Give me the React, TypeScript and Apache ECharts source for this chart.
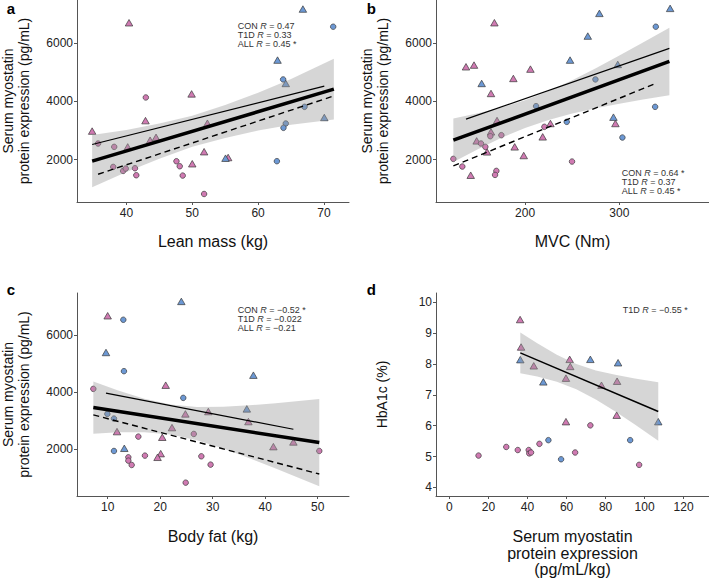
import React, { useEffect, useRef } from "react";
import * as echarts from "echarts";

const FONT = '"Liberation Sans", Arial, Helvetica, sans-serif';
const PINK = "#d07ab2";
const BLUE = "#6c98d4";

// ---- Panel a: Lean mass (kg) vs serum myostatin (pg/mL)
const aPinkTri = [[34.8, 2980], [40.4, 6710], [42.9, 3340], [49.9, 4260], [50.0, 1855], [51.8, 2270], [52.3, 3250], [43.6, 2665], [44.5, 2765], [40.2, 2435], [55.45, 2070]];
const aPinkCirc = [[35.7, 2552], [38.15, 2437], [38.0, 1746], [42.95, 4137], [39.5, 1607], [39.9, 1690], [41.3, 1700], [41.5, 1459], [47.6, 1941], [48.1, 1769], [48.55, 1448], [51.8, 814]];
const aBlueTri = [[66.8, 7182], [62.95, 5424], [64.2, 4620], [70.05, 3448], [55.05, 2046]];
const aBlueCirc = [[71.4, 6573], [63.8, 4758], [67.05, 3815], [64.2, 3241], [63.85, 3092], [62.85, 1943]];
const aAll = [[34.8, 1943], [71.5, 4424]];
const aT1D = [[34.8, 2517], [70.05, 4528]];
const aCon = [[35.7, 1494], [71.4, 4183]];
const aBandX = [34.8, 40, 45, 50, 55, 60, 65, 71.5];
const aBandUp = [2843, 3020, 3243, 3506, 3874, 4297, 4775, 5469];
const aBandLo = [1043, 1570, 2023, 2436, 2744, 2997, 3195, 3379];
const aXTicks = [40, 50, 60, 70];
const aYTicks = [2000, 4000, 6000];

// ---- Panel b: MVC (Nm)
const bPinkTri = [[142.4, 1460], [137.4, 5194], [145.9, 5252], [167.5, 6711], [163.9, 4275], [187.6, 4792], [205.7, 5114], [170.3, 3344], [163.9, 2954], [148.7, 2643], [159.7, 2264], [189, 2437], [198.6, 2138], [218.7, 2781], [226.9, 3241], [295.8, 3241]];
const bPinkCirc = [[163.2, 2804], [174.9, 2839], [153.3, 2552], [157.9, 2437], [124, 2023], [133.5, 1759], [169.6, 1609], [168.2, 1471], [220.5, 3126], [249.8, 1931]];
const bBlueTri = [[154, 4620], [247.7, 5424], [278.8, 7033], [353.8, 7205], [266.5, 6251], [298.3, 5275], [293.7, 3459]];
const bBlueCirc = [[211.7, 3838], [244.2, 3298], [338.6, 6573], [274.6, 4758], [337.9, 3815], [303.2, 2758]];
const bAll = [[124, 2666], [353, 5377]];
const bT1D = [[137.4, 3390], [353, 5826]];
const bCon = [[124, 1782], [338.6, 4620]];
const bBandX = [124, 150, 175, 200, 225, 250, 275, 300, 325, 353];
const bBandUp = [3416, 3592, 3793, 4044, 4360, 4733, 5145, 5580, 6027, 6537];
const bBandLo = [1916, 2356, 2747, 3088, 3364, 3583, 3763, 3920, 4065, 4217];
const bXTicks = [200, 300];
const bYTicks = [2000, 4000, 6000];

// ---- Panel c: Body fat (kg)
const cPinkTri = [[10, 6694], [21.05, 4247], [24.8, 3235], [29.17, 3318], [36.8, 2965], [11.78, 2612], [22.25, 2753], [20.4, 2412], [20.1, 1835], [19.5, 1706], [41.56, 2082], [45.37, 2247]];
const cBlueTri = [[24.03, 7200], [9.68, 5400], [37.75, 4600], [36.5, 3412], [13.17, 2024]];
const cPinkCirc = [[7.27, 4118], [15.84, 2435], [26.4, 2529], [13.94, 1706], [13.94, 1588], [14.57, 1435], [17.1, 1765], [27.84, 1741], [29.6, 1447], [24.86, 812], [50.3, 1929]];
const cBlueCirc = [[12.98, 6553], [13.1, 4741], [24.4, 3800], [9.94, 3235], [11.2, 3071], [11.2, 1929]];
const cAll = [[7.27, 3459], [50.3, 2224]];
const cT1D = [[9.68, 3965], [45.37, 2694]];
const cCon = [[7.27, 3200], [50.3, 1118]];
const cBandX = [7.27, 12, 17, 22, 27, 32, 37, 42, 50.3];
const cBandUp = [4379, 4058, 3767, 3565, 3480, 3484, 3537, 3613, 3764];
const cBandLo = [2539, 2588, 2593, 2507, 2306, 2014, 1675, 1311, 684];
const cXTicks = [10, 20, 30, 40, 50];
const cYTicks = [2000, 4000, 6000];

// ---- Panel d: myostatin (pg/mL/kg) vs HbA1c (%)
const dPinkTri = [[36.2, 9.44], [36.7, 8.55], [43.2, 7.94], [61.6, 8.15], [61.9, 7.92], [59.7, 7.54], [77.9, 7.31], [85.9, 7.44], [85.7, 6.34], [59.7, 6.13]];
const dBlueTri = [[36.3, 8.14], [48.1, 7.42], [72.2, 8.15], [86.4, 8.04], [107, 6.13]];
const dPinkCirc = [[72.2, 6.01], [14.9, 5.03], [29.1, 5.31], [35, 5.21], [40.6, 5.21], [40.9, 5.1], [41.8, 5.13], [46.1, 5.41], [64.4, 5.13], [97.2, 4.73]];
const dBlueCirc = [[92.6, 5.53], [50.7, 5.53], [57.2, 4.91]];
const dT1D = [[36.3, 8.36], [107, 6.46]];
const dBandX = [36.3, 45, 55, 65, 75, 85, 95, 107];
const dBandUp = [9.02, 8.67, 8.3, 8.0, 7.79, 7.65, 7.53, 7.41];
const dBandLo = [7.7, 7.59, 7.42, 7.18, 6.85, 6.46, 6.04, 5.51];
const dXTicks = [0, 20, 40, 60, 80, 100, 120];
const dYTicks = [4, 5, 6, 7, 8, 9, 10];

const AXIS_COLOR = "#555";
const plain = (v: number) => String(v);

function xAxis(gi: number, min: number, max: number, ticks: number[], name: string, nameGap: number) {
  return {
    type: "value", gridIndex: gi, min, max, name, nameLocation: "middle", nameGap,
    nameTextStyle: { fontSize: 16, color: "#111", fontFamily: FONT, lineHeight: 16.7 },
    axisLine: { show: true, onZero: false, lineStyle: { color: AXIS_COLOR, width: 1 } },
    axisTick: { show: true, length: 3, customValues: ticks, lineStyle: { color: AXIS_COLOR } },
    axisLabel: { customValues: ticks, formatter: plain, fontSize: 12, color: "#222", margin: 5, fontFamily: FONT },
    splitLine: { show: false },
  };
}
function yAxis(gi: number, min: number, max: number, ticks: number[], name: string, nameGap: number) {
  return {
    type: "value", gridIndex: gi, min, max, name, nameLocation: "middle", nameGap,
    nameTextStyle: { fontSize: 14, color: "#111", fontFamily: FONT, lineHeight: 16 },
    axisLine: { show: true, onZero: false, lineStyle: { color: AXIS_COLOR, width: 1 } },
    axisTick: { show: true, length: 3, customValues: ticks, lineStyle: { color: AXIS_COLOR } },
    axisLabel: { customValues: ticks, formatter: plain, fontSize: 12, color: "#222", margin: 4, fontFamily: FONT },
    splitLine: { show: false },
  };
}

function scatter(gi: number, data: number[][], color: string, symbol: string) {
  return {
    type: "scatter", xAxisIndex: gi, yAxisIndex: gi, data, symbol,
    symbolSize: symbol === "circle" ? 5.5 : [7.5, 6.5],
    itemStyle: { color, borderColor: "#3a3a3a", borderWidth: 0.7, opacity: 1 },
    z: 2, silent: true,
  };
}
function band(gi: number, xs: number[], up: number[], lo: number[]) {
  return {
    type: "custom", xAxisIndex: gi, yAxisIndex: gi, z: 3, silent: true, clip: true,
    data: [[xs[0], lo[0]]],
    renderItem: (_p: any, api: any) => {
      const pts: number[][] = [];
      for (let i = 0; i < xs.length; i++) pts.push(api.coord([xs[i], up[i]]));
      for (let i = xs.length - 1; i >= 0; i--) pts.push(api.coord([xs[i], lo[i]]));
      return { type: "polygon", shape: { points: pts }, style: { fill: "rgba(153,153,153,0.4)" } };
    },
  };
}
function line(gi: number, data: number[][], width: number, type: any) {
  return {
    type: "line", xAxisIndex: gi, yAxisIndex: gi, data, symbol: "none", silent: true,
    lineStyle: { color: "#000", width, type }, z: 4,
  };
}

function annot(x: number, y: number, pre: string, post: string) {
  const base = { fontSize: 9, fontFamily: FONT, fill: "#333", lineHeight: 9 };
  return {
    type: "text", x, y, silent: true,
    style: {
      text: `{n|${pre} }{i|R}{n| ${post}}`,
      rich: { n: { ...base }, i: { ...base, fontStyle: "italic" } },
      align: "left", verticalAlign: "middle",
    },
  };
}
function letter(x: number, y: number, t: string) {
  return {
    type: "text", x, y, silent: true,
    style: { text: t, fontSize: 15, fontWeight: "bold", fontFamily: FONT, fill: "#000", align: "left", verticalAlign: "middle" },
  };
}

const Y_NAME = "Serum myostatin\nprotein expression (pg/mL)";

export default function App() {
  const ref = useRef<HTMLDivElement>(null);
  useEffect(() => {
    if (!ref.current) return;
    const chart = echarts.init(ref.current, null, { renderer: "svg" });
    chart.setOption({
      animation: false,
      backgroundColor: "#fff",
      grid: [
        { left: 77, top: 0, width: 272, height: 202, outerBoundsMode: "none" },
        { left: 436, top: 0, width: 273, height: 202, outerBoundsMode: "none" },
        { left: 77, top: 293, width: 272, height: 203, outerBoundsMode: "none" },
        { left: 436, top: 293, width: 273, height: 203, outerBoundsMode: "none" },
      ],
      xAxis: [
        xAxis(0, 32.5, 73.8, aXTicks, "Lean mass (kg)", 31),
        xAxis(1, 105.6, 395, bXTicks, "MVC (Nm)", 31),
        xAxis(2, 4.16, 55.96, cXTicks, "Body fat (kg)", 32),
        xAxis(3, -6.9, 133, dXTicks, "Serum myostatin\nprotein expression\n(pg/mL/kg)", 32),
      ],
      yAxis: [
        yAxis(0, 538, 7493, aYTicks, Y_NAME, 45),
        yAxis(1, 538, 7493, bYTicks, Y_NAME, 45),
        yAxis(2, 342, 7496, cYTicks, Y_NAME, 45),
        yAxis(3, 3.72, 10.3, dYTicks, "HbA1c (%)", 46),
      ],
      series: [
        scatter(0, aPinkTri, PINK, "triangle"), scatter(0, aPinkCirc, PINK, "circle"),
        scatter(0, aBlueTri, BLUE, "triangle"), scatter(0, aBlueCirc, BLUE, "circle"),
        band(0, aBandX, aBandUp, aBandLo),
        line(0, aAll, 3.5, "solid"), line(0, aT1D, 1.2, "solid"), line(0, aCon, 1.4, [6, 4]),

        scatter(1, bPinkTri, PINK, "triangle"), scatter(1, bPinkCirc, PINK, "circle"),
        scatter(1, bBlueTri, BLUE, "triangle"), scatter(1, bBlueCirc, BLUE, "circle"),
        band(1, bBandX, bBandUp, bBandLo),
        line(1, bAll, 3.5, "solid"), line(1, bT1D, 1.2, "solid"), line(1, bCon, 1.4, [6, 4]),

        scatter(2, cPinkTri, PINK, "triangle"), scatter(2, cPinkCirc, PINK, "circle"),
        scatter(2, cBlueTri, BLUE, "triangle"), scatter(2, cBlueCirc, BLUE, "circle"),
        band(2, cBandX, cBandUp, cBandLo),
        line(2, cAll, 3.5, "solid"), line(2, cT1D, 1.2, "solid"), line(2, cCon, 1.4, [6, 4]),

        scatter(3, dPinkTri, PINK, "triangle"), scatter(3, dPinkCirc, PINK, "circle"),
        scatter(3, dBlueTri, BLUE, "triangle"), scatter(3, dBlueCirc, BLUE, "circle"),
        band(3, dBandX, dBandUp, dBandLo),
        line(3, dT1D, 1.5, "solid"),
      ],
      graphic: [
        letter(6.7, 8, "a"), letter(366.7, 8, "b"), letter(6.7, 289, "c"), letter(366.7, 289, "d"),
        annot(237.7, 25.7, "CON", "= 0.47"), annot(237.7, 34.7, "T1D", "= 0.33"), annot(237.7, 43.7, "ALL", "= 0.45 *"),
        annot(621.7, 172.7, "CON", "= 0.64 *"), annot(621.7, 181.7, "T1D", "= 0.37"), annot(621.7, 190.7, "ALL", "= 0.45 *"),
        annot(237.7, 310, "CON", "= \u22120.52 *"), annot(237.7, 319, "T1D", "= \u22120.022"), annot(237.7, 328, "ALL", "= \u22120.21"),
        annot(622.7, 309.5, "T1D", "= \u22120.55 *"),
      ],
    });
    return () => chart.dispose();
  }, []);
  return <div ref={ref} style={{ position: "absolute", left: 0, top: 0, width: 709, height: 578 }} />;
}
